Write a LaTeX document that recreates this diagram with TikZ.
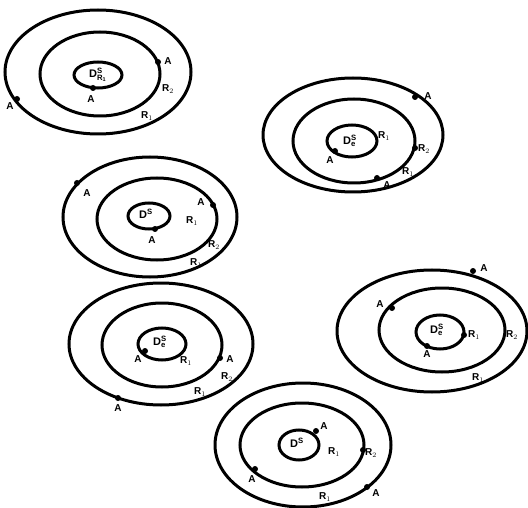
\documentclass[tikz,border=0pt]{standalone}
\usepackage{fontspec}
\setmainfont{Liberation Sans}
\setsansfont{Liberation Sans}
\usetikzlibrary{positioning}
\newcommand{\dsym}[1]{D$^{\mathbf{S}}_{\mathbf{#1}}$}

\begin{document}
\begin{tikzpicture}[x=1pt, y=-1pt,
  ringline/.style={line width=3pt},
  dotm/.style={circle, fill, inner sep=0pt, minimum size=6pt},
  lbl/.style={font=\sffamily\bfseries\fontsize{10}{10}\selectfont, inner sep=0.5pt},
  ctr/.style={font=\sffamily\bfseries\fontsize{11}{11}\selectfont, inner sep=0pt}]
\useasboundingbox (0,0) rectangle (528,508);
% set 1 (top left)
\draw[ringline] (98,72) ellipse [x radius=93, y radius=62];
\draw[ringline] (100,74) ellipse [x radius=60, y radius=42];
\draw[ringline] (98,75) ellipse [x radius=24, y radius=13];
\node[ctr] (d1) at (98,75) {\dsym{R_1}};
\node[dotm] (p11) at (93,88) {};
\node[lbl] (a11) at (91,99) {A};
\node[dotm] (p12) at (158,62) {};
\node[lbl] (a12) at (168,61) {A};
\node[lbl] (r12) at (168,89) {R$_2$};
\node[dotm] (p13) at (17,99) {};
\node[lbl] (a13) at (10,106) {A};
\node[lbl] (r11) at (147,116) {R$_1$};
% set 2 (top right)
\draw[ringline] (353,135) ellipse [x radius=90, y radius=57];
\draw[ringline] (354,141) ellipse [x radius=61, y radius=42];
\draw[ringline] (352,141) ellipse [x radius=25, y radius=16];
\node[ctr] (d2) at (350,141) {\dsym{e}};
\node[dotm] (p21) at (415,97) {};
\node[lbl] (a21) at (428,96) {A};
\node[lbl] (r21) at (384,136) {R$_1$};
\node[dotm] (p22) at (335,151) {};
\node[lbl] (a22) at (330,160) {A};
\node[dotm] (p23) at (415,148) {};
\node[lbl] (r22) at (424,149) {R$_2$};
\node[dotm] (p24) at (377,178) {};
\node[lbl] (a24) at (387,185) {A};
\node[lbl] (r23) at (408,172) {R$_1$};
% set 3
\draw[ringline] (150,217) ellipse [x radius=87, y radius=60];
\draw[ringline] (157,219) ellipse [x radius=60, y radius=41];
\draw[ringline] (149,216) ellipse [x radius=21, y radius=13];
\node[ctr] (d3) at (146,215) {\dsym{}};
\node[dotm] (p31) at (77,183) {};
\node[lbl] (a31) at (87,193) {A};
\node[dotm] (p32) at (213,205) {};
\node[lbl] (a32) at (201,202) {A};
\node[lbl] (r31) at (192,221) {R$_1$};
\node[dotm] (p33) at (155,229) {};
\node[lbl] (a33) at (152,240) {A};
\node[lbl] (r32) at (214,245) {R$_2$};
\node[lbl] (r33) at (196,263) {R$_1$};
% set 4
\draw[ringline] (161,344) ellipse [x radius=92, y radius=61];
\draw[ringline] (162,345) ellipse [x radius=60, y radius=42];
\draw[ringline] (162,344) ellipse [x radius=24, y radius=16];
\node[ctr] (d4) at (160,342) {\dsym{e}};
\node[dotm] (p41) at (145,351) {};
\node[lbl] (a41) at (138,359) {A};
\node[lbl] (r41) at (186,361) {R$_1$};
\node[dotm] (p42) at (220,358) {};
\node[lbl] (a42) at (230,359) {A};
\node[lbl] (r42) at (227,377) {R$_2$};
\node[lbl] (r43) at (200,392) {R$_1$};
\node[dotm] (p43) at (118,398) {};
\node[lbl] (a43) at (118,408) {A};
% set 5
\draw[ringline] (432,331) ellipse [x radius=95, y radius=61];
\draw[ringline] (442,330) ellipse [x radius=63, y radius=42];
\draw[ringline] (440,332) ellipse [x radius=24, y radius=17];
\node[ctr] (d5) at (437,330) {\dsym{e}};
\node[dotm] (p51) at (473,271) {};
\node[lbl] (a51) at (484,268) {A};
\node[dotm] (p52) at (392,308) {};
\node[lbl] (a52) at (380,304) {A};
\node[dotm] (p53) at (464,335) {};
\node[lbl] (r51) at (474,335) {R$_1$};
\node[dotm] (p54) at (427,346) {};
\node[lbl] (a54) at (427,354) {A};
\node[lbl] (r52) at (512,335) {R$_2$};
\node[lbl] (r53) at (478,378) {R$_1$};
% set 6 (bottom)
\draw[ringline] (303,445) ellipse [x radius=88, y radius=62];
\draw[ringline] (302,445) ellipse [x radius=62, y radius=42];
\draw[ringline] (299,445) ellipse [x radius=20, y radius=15];
\node[ctr] (d6) at (297,444) {\dsym{}};
\node[dotm] (p61) at (316,431) {};
\node[lbl] (a61) at (324,426) {A};
\node[lbl] (r61) at (334,452) {R$_1$};
\node[dotm] (p62) at (363,450) {};
\node[lbl] (r62) at (371,453) {R$_2$};
\node[dotm] (p63) at (255,469) {};
\node[lbl] (a63) at (252,479) {A};
\node[dotm] (p64) at (367,487) {};
\node[lbl] (a64) at (376,493) {A};
\node[lbl] (r63) at (325,497) {R$_1$};
\end{tikzpicture}
\end{document}
